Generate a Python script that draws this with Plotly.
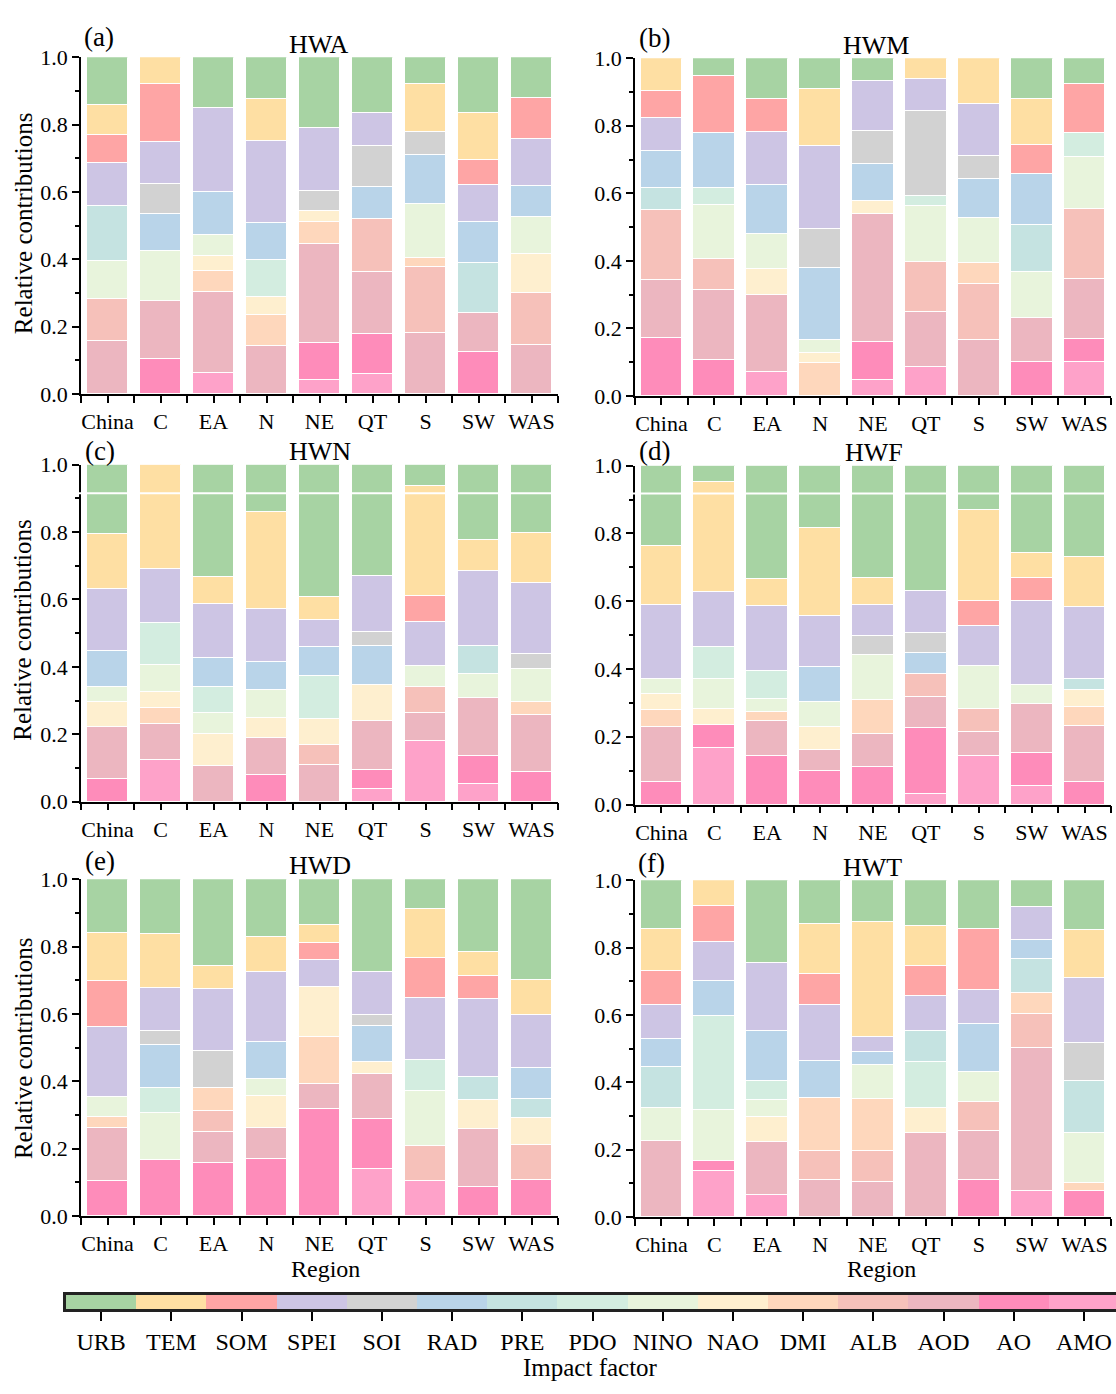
import plotly.graph_objects as go

# ---------------- data ----------------
REGIONS = ["China", "C", "EA", "N", "NE", "QT", "S", "SW", "WAS"]
FACTORS = ["URB", "TEM", "SOM", "SPEI", "SOI", "RAD", "PRE", "PDO",
           "NINO", "NAO", "DMI", "ALB", "AOD", "AO", "AMO"]
FACTOR_COLORS = ["#a7d3a3", "#fedfa3", "#fea5a5", "#cdc5e4", "#d2d2d2",
                 "#b9d4e9", "#c5e3e1", "#d3ede0", "#e8f4dc", "#feefcf",
                 "#fed7bc", "#f6c1ba", "#ecb6c0", "#fe8cba", "#fea2c9"]
PANEL_NAMES = ["HWA", "HWM", "HWN", "HWF", "HWD", "HWT"]
PANEL_LETTERS = ["(a)", "(b)", "(c)", "(d)", "(e)", "(f)"]
Y_TICKS = [0.0, 0.2, 0.4, 0.6, 0.8, 1.0]

# relative contribution of each factor, per region (order of REGIONS)
HWA = {
    "URB":  [.142, 0, .151, .124, .210, .165, .081, .165, .122],
    "TEM":  [.089, .081, 0, .125, 0, 0, .143, .140, 0],
    "SOM":  [.083, .172, 0, 0, 0, 0, 0, .076, .122],
    "SPEI": [.128, .125, .250, .244, .188, .099, 0, .109, .138],
    "SOI":  [0, .088, 0, 0, .059, .122, .067, 0, 0],
    "RAD":  [0, .109, .128, .109, 0, .095, .144, .122, .092],
    "PRE":  [.165, 0, 0, 0, 0, 0, 0, .148, 0],
    "PDO":  [0, 0, 0, .110, 0, 0, 0, 0, 0],
    "NINO": [.110, .150, .062, 0, 0, 0, .162, 0, .111],
    "NAO":  [0, 0, .045, .054, .034, 0, 0, 0, .115],
    "DMI":  [0, 0, .063, .093, .063, 0, .027, 0, 0],
    "ALB":  [.127, 0, 0, 0, 0, .157, .194, 0, .156],
    "AOD":  [.156, .171, .238, .141, .296, .183, .182, .115, .144],
    "AO":   [0, .104, 0, 0, .108, .119, 0, .125, 0],
    "AMO":  [0, 0, .063, 0, .042, .060, 0, 0, 0],
}
HWM = {
    "URB":  [0, .053, .120, .093, .068, 0, 0, .122, .076],
    "TEM":  [.098, 0, 0, .167, 0, .061, .135, .135, 0],
    "SOM":  [.080, .170, .098, 0, 0, 0, 0, .085, .147],
    "SPEI": [.097, 0, .158, .247, .148, .097, .154, 0, 0],
    "SOI":  [0, 0, 0, .114, .099, .251, .070, 0, 0],
    "RAD":  [.109, .161, .144, .215, .108, 0, .116, .151, 0],
    "PRE":  [.067, 0, 0, 0, 0, 0, 0, .139, 0],
    "PDO":  [0, .051, 0, 0, 0, .030, 0, 0, .071],
    "NINO": [0, .160, .105, .038, 0, .166, .131, .137, .153],
    "NAO":  [0, 0, .077, .030, .038, 0, 0, 0, 0],
    "DMI":  [0, 0, 0, .096, 0, 0, .062, 0, 0],
    "ALB":  [.205, .091, 0, 0, 0, .148, .168, 0, .206],
    "AOD":  [.173, .209, .228, 0, .379, .161, .164, .132, .178],
    "AO":   [.171, .105, 0, 0, .114, 0, 0, .099, .069],
    "AMO":  [0, 0, .070, 0, .046, .086, 0, 0, .100],
}
HWN = {
    "URB":  [.204, 0, .333, .139, .391, .330, .062, .224, .202],
    "TEM":  [.163, .308, .081, .289, .069, 0, .326, .090, .149],
    "SOM":  [0, 0, 0, 0, 0, 0, .079, 0, 0],
    "SPEI": [.186, .160, .159, .156, .080, .167, .130, .224, .210],
    "SOI":  [0, 0, 0, 0, 0, .041, 0, 0, .046],
    "RAD":  [.105, 0, .086, .083, .086, .115, 0, 0, 0],
    "PRE":  [0, 0, 0, 0, 0, 0, 0, .081, 0],
    "PDO":  [0, .125, .078, 0, .129, 0, 0, 0, 0],
    "NINO": [.046, .081, .063, .083, 0, 0, .063, .074, .098],
    "NAO":  [.075, .048, .095, .061, .076, .108, 0, 0, 0],
    "DMI":  [0, .046, 0, 0, 0, 0, 0, 0, .038],
    "ALB":  [0, 0, 0, 0, .061, 0, .075, 0, 0],
    "AOD":  [.153, .109, .105, .109, .108, .143, .085, .171, .168],
    "AO":   [.068, 0, 0, .080, 0, .058, 0, .082, .089],
    "AMO":  [0, .123, 0, 0, 0, .038, .180, .054, 0],
}
HWF = {
    "URB":  [.235, .048, .334, .184, .331, .369, .131, .258, .268],
    "TEM":  [.174, .323, .078, .259, .078, 0, .266, .074, .148],
    "SOM":  [0, 0, 0, 0, 0, 0, .074, .066, 0],
    "SPEI": [.220, .162, .193, .150, .092, .125, .119, .248, .213],
    "SOI":  [0, 0, 0, 0, .056, .058, 0, 0, 0],
    "RAD":  [0, 0, 0, .104, 0, .061, 0, 0, 0],
    "PRE":  [0, 0, 0, 0, 0, 0, 0, 0, .033],
    "PDO":  [0, .097, .082, 0, 0, 0, 0, 0, 0],
    "NINO": [.045, .087, .040, .072, .133, 0, .128, .056, 0],
    "NAO":  [.047, .046, 0, .070, 0, 0, 0, 0, .049],
    "DMI":  [.048, 0, .026, 0, .101, 0, 0, 0, .057],
    "ALB":  [0, 0, 0, 0, 0, .068, .066, 0, 0],
    "AOD":  [.163, 0, .103, .061, .096, .093, .071, .144, .164],
    "AO":   [.068, .070, .144, .100, .113, .194, 0, .098, .068],
    "AMO":  [0, .167, 0, 0, 0, .032, .145, .056, 0],
}
HWD = {
    "URB":  [.159, .163, .257, .173, .138, .275, .088, .216, .299],
    "TEM":  [.145, .160, .071, .104, .051, 0, .146, .073, .104],
    "SOM":  [.134, 0, 0, 0, .052, 0, .118, .066, 0],
    "SPEI": [.208, .129, .184, .206, .081, .129, .186, .233, .159],
    "SOI":  [0, .041, .107, 0, 0, .031, 0, 0, 0],
    "RAD":  [0, .127, 0, .110, 0, .109, 0, 0, .091],
    "PRE":  [0, 0, 0, 0, 0, 0, 0, .067, .056],
    "PDO":  [0, .076, 0, 0, 0, 0, .090, 0, 0],
    "NINO": [.061, .139, 0, .051, 0, 0, .166, 0, 0],
    "NAO":  [0, 0, 0, .096, .148, .034, 0, .088, .081],
    "DMI":  [.031, 0, .070, 0, .139, 0, 0, 0, 0],
    "ALB":  [0, 0, .063, 0, 0, 0, .104, 0, .104],
    "AOD":  [.159, 0, .092, .092, .075, .134, 0, .170, 0],
    "AO":   [.103, .165, .156, .168, .316, .148, 0, .087, .106],
    "AMO":  [0, 0, 0, 0, 0, .140, .102, 0, 0],
}
HWT = {
    "URB":  [.144, 0, .246, .131, .126, .138, .144, .081, .148],
    "TEM":  [.127, .078, 0, .149, .339, .117, 0, 0, .143],
    "SOM":  [.101, .106, 0, .092, 0, .088, .183, 0, 0],
    "SPEI": [.100, .115, .202, .164, .045, .105, .100, .098, .194],
    "SOI":  [0, 0, 0, 0, 0, 0, 0, 0, .112],
    "RAD":  [.084, .105, .148, .111, .040, 0, .144, .055, 0],
    "PRE":  [.121, 0, 0, 0, 0, .092, 0, .100, .153],
    "PDO":  [0, .280, .058, 0, 0, .138, 0, 0, 0],
    "NINO": [.099, .151, .050, 0, .101, 0, .087, 0, .149],
    "NAO":  [0, 0, .075, 0, 0, .074, 0, 0, 0],
    "DMI":  [0, 0, 0, .157, .154, 0, 0, .065, .025],
    "ALB":  [0, 0, 0, .088, .091, 0, .086, .099, 0],
    "AOD":  [.224, 0, .157, .108, .104, .248, .146, .426, 0],
    "AO":   [0, .029, 0, 0, 0, 0, .110, 0, .076],
    "AMO":  [0, .136, .064, 0, 0, 0, 0, .076, 0],
}
PANEL_DATA = [HWA, HWM, HWN, HWF, HWD, HWT]

# ---------------- layout helpers ----------------
W, H = 1116, 1394
FONT = "Liberation Serif, Times New Roman, serif"


def fx(p):
    return p / W


def fy(p):
    return 1 - p / H


# plot boxes in pixels: left, right, top(1.0), bottom(0.0)
BOXES = [(81, 558, 46, 389), (635, 1111, 47, 391),
         (81, 558, 461, 804), (635, 1111, 462, 807),
         (81, 558, 883, 1226), (635, 1111, 884, 1227)]
LETTER_POS = [(99, 25), (654, 26), (100, 447), (654, 447), (100, 865), (651, 867)]
TITLE_POS = [(318, 33), (876, 34), (320, 448), (874, 449), (320, 869), (872, 871)]

fig = go.Figure()
layout = dict(
    width=W, height=H,
    margin=dict(l=0, r=0, t=0, b=0),
    paper_bgcolor="white", plot_bgcolor="white",
    barmode="stack", bargap=0,
    showlegend=False,
    font=dict(family=FONT, color="black", size=22),
)
annotations = []
shapes = []

xs = list(range(len(REGIONS)))
for i, data in enumerate(PANEL_DATA):
    k = "" if i == 0 else str(i + 1)
    for f, col in zip(reversed(FACTORS), reversed(FACTOR_COLORS)):
        fig.add_trace(go.Bar(
            x=xs, y=data[f], name=f, width=0.79,
            marker=dict(color=col, line=dict(color="white", width=1)),
            xaxis="x" + k, yaxis="y" + k, hovertemplate=f + ": %{y}<extra></extra>",
        ))
    l, r, t, b = BOXES[i]
    layout["xaxis" + k] = dict(
        domain=[fx(l), fx(r)], anchor="y" + k, range=[-0.5, len(REGIONS) - 0.5],
        tickmode="array", tickvals=xs, ticktext=REGIONS,
        ticks="outside", ticklen=7, tickwidth=1.5, tickcolor="black",
        minor=dict(ticks="outside", ticklen=7, tickwidth=1.5, tickcolor="black",
                   tick0=-0.5, dtick=1),
        showline=True, linecolor="black", linewidth=1.5,
        showgrid=False, zeroline=False, fixedrange=True,
        tickfont=dict(size=22, family=FONT, color="black"),
    )
    layout["yaxis" + k] = dict(
        domain=[fy(b), fy(t)], anchor="x" + k, range=[0, 1],
        tickmode="array", tickvals=Y_TICKS, tickformat=".1f",
        ticks="outside", ticklen=7, tickwidth=1.5, tickcolor="black",
        minor=dict(ticks="outside", ticklen=4, tickwidth=1.5, tickcolor="black",
                   tick0=0, dtick=0.1),
        showline=True, linecolor="black", linewidth=1.5,
        showgrid=False, zeroline=False, fixedrange=True,
        tickfont=dict(size=22, family=FONT, color="black"),
    )
    lx, ly = LETTER_POS[i]
    annotations.append(dict(text=PANEL_LETTERS[i], x=fx(lx), y=fy(ly), xref="paper", yref="paper",
                            showarrow=False, xanchor="center", yanchor="middle",
                            font=dict(size=27, family=FONT, color="black")))
    tx, ty = TITLE_POS[i]
    annotations.append(dict(text=PANEL_NAMES[i], x=fx(tx), y=fy(ty), xref="paper", yref="paper",
                            showarrow=False, xanchor="center", yanchor="middle",
                            font=dict(size=26, family=FONT, color="black")))

# thin white scan line across panels (c) and (d) as in the original figure
for k, yv in (("3", 0.915), ("4", 0.918)):
    shapes.append(dict(type="line", xref="x" + k + " domain", yref="y" + k,
                       x0=-0.02, x1=1.0, y0=yv, y1=yv,
                       line=dict(color="white", width=2), layer="above"))

# axis titles
for yc in (216, 630, 1056):
    annotations.append(dict(text="Relative contributions", x=fx(23), y=fy(yc),
                            xref="paper", yref="paper", showarrow=False, textangle=-90,
                            xanchor="center", yanchor="middle",
                            font=dict(size=25, family=FONT, color="black")))
for xc in (325, 881):
    annotations.append(dict(text="Region", x=fx(xc), y=fy(1280), xref="paper", yref="paper",
                            showarrow=False, xanchor="center", yanchor="middle",
                            font=dict(size=24, family=FONT, color="black")))

# ---------------- colour legend strip ----------------
fx_idx = list(range(len(FACTORS)))
fig.add_trace(go.Bar(
    x=fx_idx, y=[1] * len(FACTORS), width=1,
    marker=dict(color=FACTOR_COLORS, line=dict(width=0)),
    xaxis="x7", yaxis="y7", hovertext=FACTORS, hoverinfo="text",
))
seg = 70.2
left_px = 66
span = (W - left_px) / seg
layout["xaxis7"] = dict(
    domain=[fx(left_px), 1.0], anchor="y7", range=[-0.5, -0.5 + span],
    tickmode="array", tickvals=fx_idx, ticktext=FACTORS,
    ticks="outside", ticklen=9, tickwidth=1.5, tickcolor="black",
    showline=True, mirror=True, linecolor="#222", linewidth=2.5,
    showgrid=False, zeroline=False, fixedrange=True,
    tickfont=dict(size=24, family=FONT, color="black"),
)
layout["yaxis7"] = dict(
    domain=[fy(1321), fy(1306)], anchor="x7", range=[0, 1],
    showticklabels=False, ticks="",
    showline=True, mirror=False, linecolor="#222", linewidth=2.5,
    showgrid=False, zeroline=False, fixedrange=True,
)
annotations.append(dict(text="Impact factor", x=fx(590), y=fy(1380), xref="paper", yref="paper",
                        showarrow=False, xanchor="center", yanchor="middle",
                        font=dict(size=25, family=FONT, color="black")))

layout["annotations"] = annotations
layout["shapes"] = shapes
fig.update_layout(**layout)

# pin the figure to the page's top-left corner so it fills the window exactly
PIN_JS = ("document.body.style.margin='0';"
          "document.documentElement.style.overflow='hidden';"
          "var gd=document.getElementById('{plot_id}');"
          "gd.style.position='absolute';gd.style.left='0px';gd.style.top='0px';")
fig.write_html("out.html", post_script=PIN_JS, config={"displayModeBar": False})
